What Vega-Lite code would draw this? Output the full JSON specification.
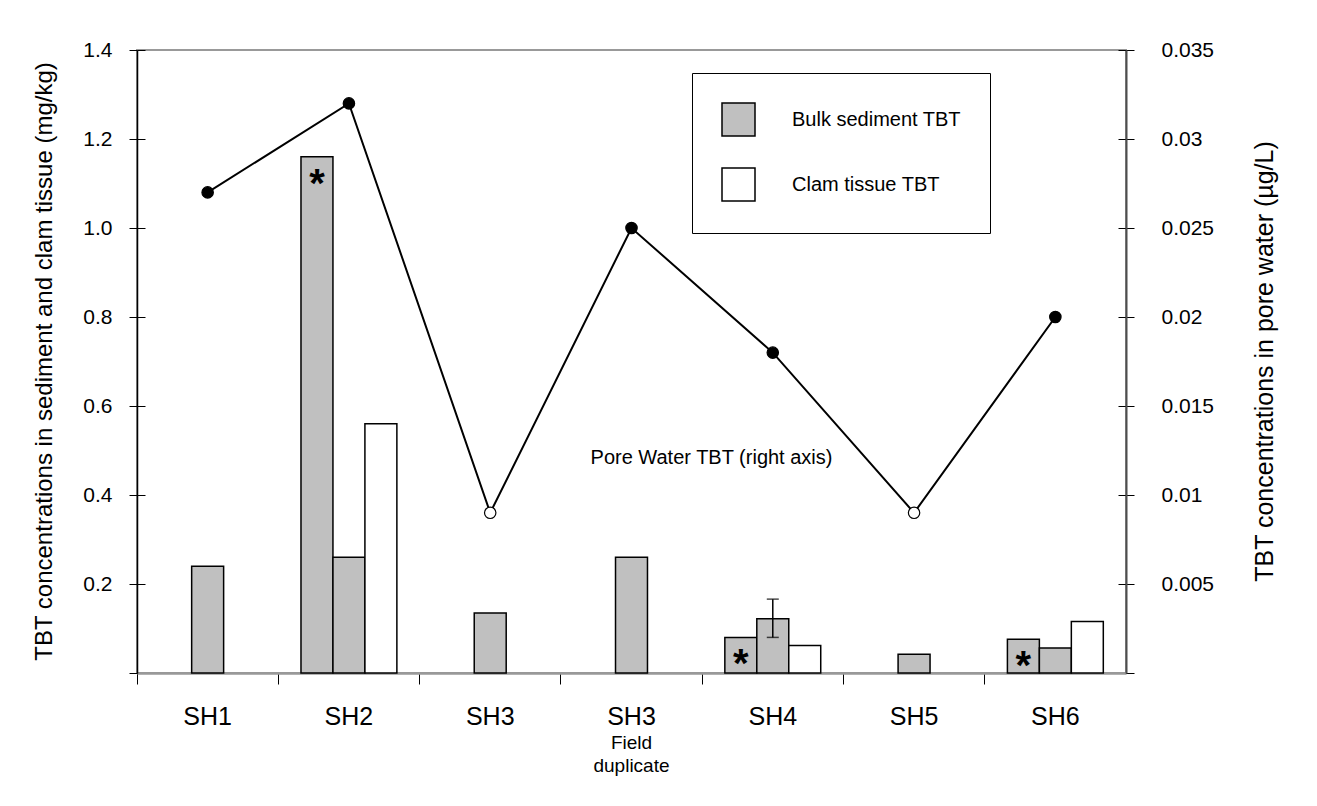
{
  "$schema": "https://vega.github.io/schema/vega-lite/v6.json",
  "width": 989,
  "height": 623,
  "autosize": {"type": "none"},
  "padding": {"left": 137, "top": 50, "right": 191, "bottom": 133},
  "background": "white",
  "config": {
    "font": "Liberation Sans",
    "view": {"stroke": "#999999", "strokeWidth": 2}
  },
  "datasets": {
    "bars": [
      {"site": "SH1", "slot": "b", "type": "Bulk sediment TBT", "value": 0.24},
      {"site": "SH2", "slot": "a", "type": "Bulk sediment TBT", "value": 1.16, "star": true},
      {"site": "SH2", "slot": "b", "type": "Bulk sediment TBT", "value": 0.26},
      {"site": "SH2", "slot": "c", "type": "Clam tissue TBT", "value": 0.56},
      {"site": "SH3", "slot": "b", "type": "Bulk sediment TBT", "value": 0.135},
      {"site": "SH3 Field duplicate", "slot": "b", "type": "Bulk sediment TBT", "value": 0.26},
      {"site": "SH4", "slot": "a", "type": "Bulk sediment TBT", "value": 0.08, "star": true},
      {"site": "SH4", "slot": "b", "type": "Bulk sediment TBT", "value": 0.122, "lo": 0.08, "hi": 0.166},
      {"site": "SH4", "slot": "c", "type": "Clam tissue TBT", "value": 0.062},
      {"site": "SH5", "slot": "b", "type": "Bulk sediment TBT", "value": 0.042},
      {"site": "SH6", "slot": "a", "type": "Bulk sediment TBT", "value": 0.076, "star": true},
      {"site": "SH6", "slot": "b", "type": "Bulk sediment TBT", "value": 0.056},
      {"site": "SH6", "slot": "c", "type": "Clam tissue TBT", "value": 0.116}
    ],
    "pore": [
      {"site": "SH1", "pw": 0.027, "nd": false},
      {"site": "SH2", "pw": 0.032, "nd": false},
      {"site": "SH3", "pw": 0.009, "nd": true},
      {"site": "SH3 Field duplicate", "pw": 0.025, "nd": false},
      {"site": "SH4", "pw": 0.018, "nd": false},
      {"site": "SH5", "pw": 0.009, "nd": true},
      {"site": "SH6", "pw": 0.020, "nd": false}
    ]
  },
  "encoding": {
    "x": {
      "field": "site",
      "type": "nominal",
      "sort": null,
      "scale": {
        "domain": ["SH1", "SH2", "SH3", "SH3 Field duplicate", "SH4", "SH5", "SH6"],
        "paddingInner": 0,
        "paddingOuter": 0
      },
      "axis": {
        "title": null,
        "bandPosition": 0,
        "labelExpr": "datum.value == 'SH3 Field duplicate' ? 'SH3' : datum.value",
        "labelFontSize": 25,
        "labelColor": "black",
        "labelAngle": 0,
        "labelPadding": 20,
        "tickSize": 11,
        "tickColor": "black",
        "tickWidth": 1,
        "domainColor": "#999999",
        "domainWidth": 2.5,
        "grid": false
      }
    }
  },
  "layer": [
    {
      "data": {"name": "bars"},
      "layer": [
        {
          "mark": {"type": "bar", "stroke": "black", "strokeWidth": 1.5},
          "encoding": {
            "xOffset": {"field": "slot", "type": "nominal", "scale": {"domain": ["a", "b", "c"], "paddingInner": 0, "paddingOuter": 0.71}},
            "y": {
              "field": "value",
              "type": "quantitative",
              "scale": {"domain": [0, 1.4], "nice": false},
              "axis": {
                "values": [0, 0.2, 0.4, 0.6, 0.8, 1.0, 1.2, 1.4],
                "labelExpr": "datum.value == 0 ? '' : format(datum.value, '.1f')",
                "title": "TBT concentrations in sediment and clam tissue (mg/kg)",
                "titleFontSize": 24,
                "titleFontWeight": "normal",
                "titleColor": "black",
                "titleAngle": 270,
                "titleX": -93,
                "titleY": 311,
                "titleBaseline": "middle",
                "titleAlign": "center",
                "labelFontSize": 21,
                "labelColor": "black",
                "labelPadding": 17,
                "tickSize": 8,
                "tickColor": "black",
                "tickWidth": 1,
                "domainColor": "black",
                "domainWidth": 1.5,
                "grid": true,
                "gridColor": "black",
                "gridWidth": 1,
                "gridOpacity": 1,
                "gridDash": [8, 973]
              }
            },
            "fill": {
              "field": "type",
              "type": "nominal",
              "scale": {"domain": ["Bulk sediment TBT", "Clam tissue TBT"], "range": ["#c0c0c0", "#ffffff"]},
              "legend": {
                "title": null,
                "orient": "none",
                "legendX": 555,
                "legendY": 23,
                "direction": "vertical",
                "symbolType": "square",
                "symbolSize": 1089,
                "symbolStrokeColor": "black",
                "symbolStrokeWidth": 1.5,
                "labelFontSize": 20,
                "labelColor": "black",
                "labelLimit": 400,
                "labelOffset": 36,
                "rowPadding": 26,
                "padding": 29,
                "strokeColor": "black",
                "fillColor": "white"
              }
            }
          }
        },
        {
          "transform": [{"filter": "datum.star"}],
          "mark": {"type": "text", "text": "*", "fontSize": 40, "fontWeight": "bold", "baseline": "top", "dy": 8, "color": "black"},
          "encoding": {
            "xOffset": {"field": "slot", "type": "nominal"},
            "y": {"field": "value", "type": "quantitative"}
          }
        },
        {
          "transform": [{"filter": "isValid(datum.lo)"}],
          "mark": {"type": "rule", "stroke": "black", "strokeWidth": 1.5},
          "encoding": {
            "xOffset": {"field": "slot", "type": "nominal"},
            "y": {"field": "lo", "type": "quantitative"},
            "y2": {"field": "hi"}
          }
        },
        {
          "transform": [{"filter": "isValid(datum.lo)"}],
          "mark": {"type": "tick", "color": "black", "size": 12, "thickness": 1.5, "orient": "horizontal"},
          "encoding": {
            "xOffset": {"field": "slot", "type": "nominal"},
            "y": {"field": "lo", "type": "quantitative"}
          }
        },
        {
          "transform": [{"filter": "isValid(datum.lo)"}],
          "mark": {"type": "tick", "color": "black", "size": 12, "thickness": 1.5, "orient": "horizontal"},
          "encoding": {
            "xOffset": {"field": "slot", "type": "nominal"},
            "y": {"field": "hi", "type": "quantitative"}
          }
        },
        {
          "data": {"values": [{"label": "Pore Water TBT (right axis)"}]},
          "mark": {"type": "text", "fontSize": 20, "dx": 80, "align": "center", "baseline": "middle", "color": "black"},
          "encoding": {
            "x": {"datum": "SH3 Field duplicate"},
            "y": {"datum": 0.483},
            "text": {"field": "label"}
          }
        },
        {
          "data": {"values": [{"l1": "Field", "l2": "duplicate"}]},
          "mark": {"type": "text", "fontSize": 19, "align": "center", "baseline": "top", "dy": 61, "lineHeight": 23, "color": "black"},
          "encoding": {
            "x": {"datum": "SH3 Field duplicate"},
            "y": {"datum": 0},
            "text": {"value": ["Field", "duplicate"]}
          }
        }
      ]
    },
    {
      "data": {"name": "pore"},
      "encoding": {
        "y": {
          "field": "pw",
          "type": "quantitative",
          "scale": {"domain": [0, 0.035], "nice": false},
          "axis": {
            "orient": "right",
            "values": [0, 0.005, 0.01, 0.015, 0.02, 0.025, 0.03, 0.035],
            "labelExpr": "datum.value == 0 ? '' : format(datum.value, '~g')",
            "title": "TBT concentrations in pore water (µg/L)",
            "titleFontSize": 25,
            "titleFontWeight": "normal",
            "titleColor": "black",
            "titleAngle": 270,
            "titleX": 138,
            "titleY": 311,
            "titleBaseline": "middle",
            "titleAlign": "center",
            "labelFontSize": 21,
            "labelColor": "black",
            "labelPadding": 27,
            "tickSize": 8,
            "tickColor": "black",
            "tickWidth": 1,
            "domainColor": "#4d4d4d",
            "domainWidth": 2,
            "grid": false
          }
        }
      },
      "layer": [
        {
          "mark": {"type": "line", "color": "black", "strokeWidth": 2}
        },
        {
          "mark": {"type": "point", "filled": true, "size": 130, "stroke": "black", "strokeWidth": 1.2, "opacity": 1},
          "encoding": {
            "fill": {"condition": {"test": "datum.nd", "value": "white"}, "value": "black"}
          }
        }
      ]
    }
  ],
  "resolve": {"scale": {"y": "independent"}}
}
